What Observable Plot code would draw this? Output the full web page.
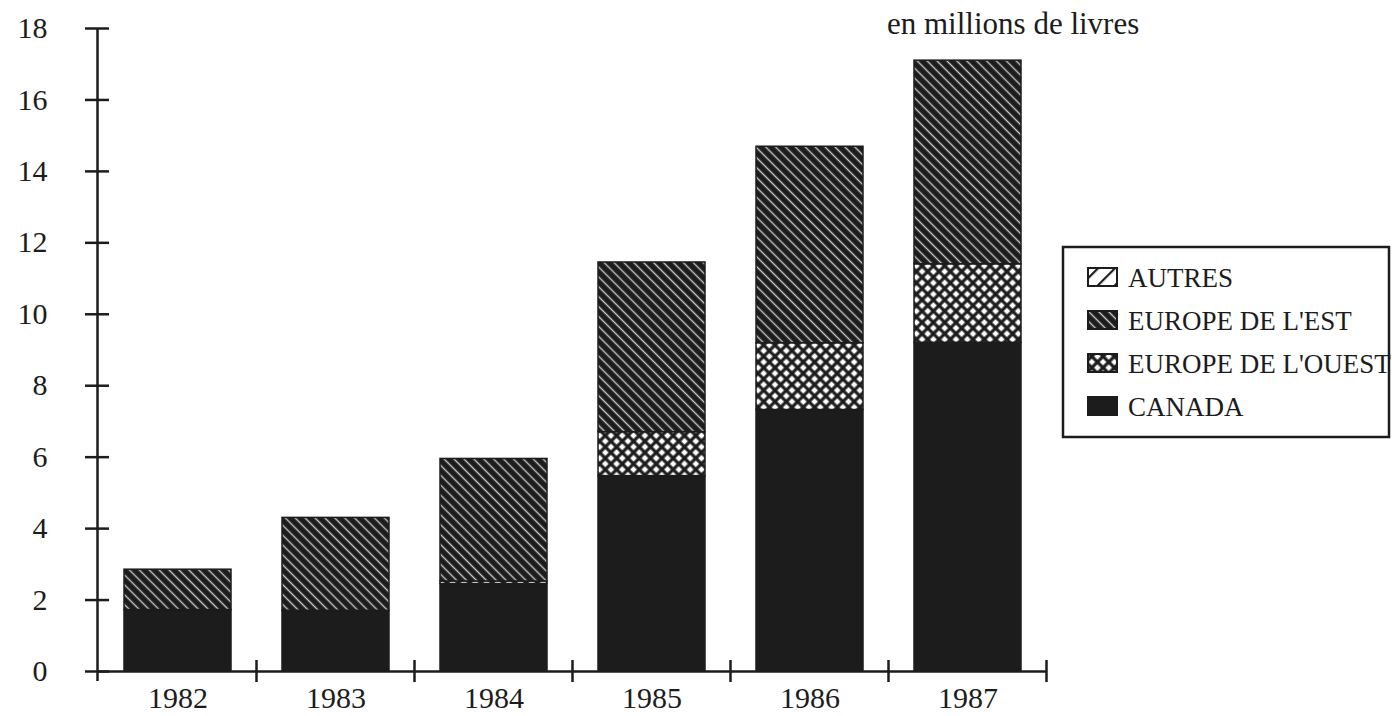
<!DOCTYPE html>
<html><head><meta charset="utf-8">
<script src="https://cdn.jsdelivr.net/npm/d3@7"></script>
<script src="https://cdn.jsdelivr.net/npm/@observablehq/plot@0.6"></script>
<style>
body{margin:0;background:#fff}
#chart{position:relative;width:1392px;height:716px}
</style>
</head><body>
<svg width="0" height="0" style="position:absolute">
  <defs>
    <pattern id="p-canada" patternUnits="userSpaceOnUse" width="8" height="8">
      <rect width="8" height="8" fill="#1c1c1c"/>
    </pattern>
    <pattern id="p-est" patternUnits="userSpaceOnUse" width="7" height="7" patternTransform="rotate(45)">
      <rect width="7" height="7" fill="#1c1c1c"/>
      <rect y="2.8" width="7" height="1.4" fill="#c8c8c8"/>
    </pattern>
    <pattern id="p-ouest" patternUnits="userSpaceOnUse" width="8" height="8" patternTransform="rotate(45)">
      <rect width="8" height="8" fill="#1c1c1c"/>
      <rect x="1.6" y="1.6" width="4.8" height="4.8" fill="#ffffff"/>
    </pattern>
    <pattern id="p-autres" patternUnits="userSpaceOnUse" width="12" height="12" patternTransform="rotate(-45)">
      <rect width="12" height="12" fill="#ffffff"/>
      <rect y="5" width="12" height="2.2" fill="#1c1c1c"/>
    </pattern>
  </defs>
</svg>
<div id="chart"></div>
<script>
const years = ["1982", "1983", "1984", "1985", "1986", "1987"];
const regions = ["CANADA", "EUROPE DE L'OUEST", "EUROPE DE L'EST", "AUTRES"];
const canada = [1.72, 1.70, 2.45, 5.47, 7.32, 9.20];
const ouest  = [0.00, 0.00, 0.07, 1.23, 1.87, 2.20];
const est    = [1.13, 2.60, 3.43, 4.75, 5.50, 5.70];
const autres = [0.00, 0.00, 0.00, 0.00, 0.00, 0.00];
const yTicks = [0, 2, 4, 6, 8, 10, 12, 14, 16, 18];
const unitLabel = "en millions de livres";
const legendOrder = ["AUTRES", "EUROPE DE L'EST", "EUROPE DE L'OUEST", "CANADA"];
const patterns = ["url(#p-canada)", "url(#p-ouest)", "url(#p-est)", "url(#p-autres)"];

const seriesValues = [canada, ouest, est, autres];
const data = [];
years.forEach((yr, i) => {
  regions.forEach((r, j) => data.push({year: yr, region: r, value: seriesValues[j][i]}));
});

const FONT = "'Liberation Serif', 'Times New Roman', serif";
const INK = "#1c1c1c";

const plot = Plot.plot({
  width: 1392,
  height: 716,
  marginLeft: 98,
  marginRight: 345,
  marginTop: 28,
  marginBottom: 45,
  style: {fontFamily: FONT, fontSize: "30px", color: INK, background: "#fff"},
  x: {domain: years, paddingInner: 0.32, paddingOuter: 0.16, label: null},
  y: {domain: [0, 18], label: null},
  color: {type: "ordinal", domain: regions, range: patterns},
  marks: [
    Plot.barY(data, {x: "year", y: "value", fill: "region", order: regions, stroke: INK, strokeWidth: 1.5}),
    Plot.ruleY([0], {stroke: INK, strokeWidth: 2.5}),
    Plot.axisY({ticks: yTicks, tickSize: 24, dx: 11, tickFormat: () => "", stroke: INK, strokeWidth: 2.5}),
    Plot.axisY({ticks: yTicks, tickSize: 0, tickPadding: 51, fontSize: 30, fill: INK}),
    Plot.axisX({tickSize: 0, tickPadding: 15, fontSize: 30, fill: INK})
  ]
});

document.getElementById("chart").appendChild(plot);

const svg = d3.select(plot);
const xs = plot.scale("x");
const ys = plot.scale("y");
const step = xs.step;
const x0 = xs.apply(years[0]) - (step - xs.bandwidth) / 2;
// y axis line
svg.append("line")
  .attr("x1", x0 - 1).attr("x2", x0 - 1)
  .attr("y1", ys.apply(18)).attr("y2", ys.apply(0) + 10)
  .attr("stroke", INK).attr("stroke-width", 2.5);
// x band boundary ticks
for (let k = 1; k <= years.length; k++) {
  const xb = x0 + k * step;
  svg.append("line")
    .attr("x1", xb).attr("x2", xb)
    .attr("y1", ys.apply(0) - 11).attr("y2", ys.apply(0) + 11)
    .attr("stroke", INK).attr("stroke-width", 2.5);
}
// unit label
svg.append("text")
  .attr("x", 887).attr("y", 34).attr("text-anchor", "start")
  .attr("font-family", FONT).attr("font-size", 31).attr("fill", INK)
  .text(unitLabel);
// legend
const lg = svg.append("g").attr("text-anchor", "start");
lg.append("rect").attr("x", 1063).attr("y", 247).attr("width", 326).attr("height", 190)
  .attr("fill", "#fff").attr("stroke", INK).attr("stroke-width", 2.5);
legendOrder.forEach((r, i) => {
  const cy = 277 + i * 43;
  lg.append("rect").attr("x", 1088).attr("y", cy - 9).attr("width", 29).attr("height", 18)
    .attr("fill", patterns[regions.indexOf(r)]).attr("stroke", INK).attr("stroke-width", 2);
  lg.append("text").attr("x", 1128).attr("y", cy + 10)
    .attr("font-family", FONT).attr("font-size", 27).attr("fill", INK).text(r);
});
</script>
</body></html>
